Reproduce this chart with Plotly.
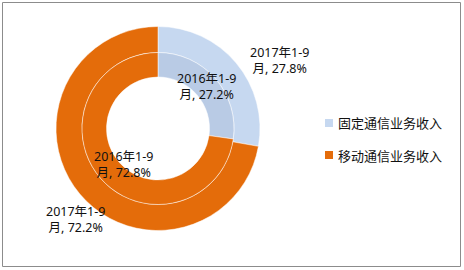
import plotly.graph_objects as go

categories = ["固定通信业务收入", "移动通信业务收入"]
periods = ["2017年1-9月", "2016年1-9月"]
values_2017 = [27.8, 72.2]
values_2016 = [27.2, 72.8]
outer_colors = ["#C6D8F0", "#E46C0A"]
inner_colors = ["#B9CBE5", "#E46C0A"]

W, H = 464, 270
cx, cy = 158, 128.5
r_out, r_mid, r_in = 102, 76, 51.5

def dom(r):
    return dict(x=[(cx - r) / W, (cx + r) / W], y=[1 - (cy + r) / H, 1 - (cy - r) / H])

fig = go.Figure()
fig.add_trace(go.Pie(
    labels=categories, values=values_2017, hole=r_mid / r_out, domain=dom(r_out),
    sort=False, direction="clockwise", rotation=0, textinfo="none",
    marker=dict(colors=outer_colors, line=dict(color="white", width=0.5)),
    showlegend=False, hoverinfo="label+percent"))
fig.add_trace(go.Pie(
    labels=categories, values=values_2016, hole=r_in / r_mid, domain=dom(r_mid),
    sort=False, direction="clockwise", rotation=0, textinfo="none",
    marker=dict(colors=inner_colors, line=dict(color="white", width=0.5)),
    showlegend=False, hoverinfo="label+percent"))

font = dict(family="Noto Sans, Noto Sans CJK SC", size=12.5, color="#111111")

def label(period, v):
    y, m = period[:-1], period[-1]
    return f"{y}<br>{m}, {v}%"

# label anchor positions (pixels)
pos = {
    (0, 0): (279, 61),
    (0, 1): (75, 219),
    (1, 0): (206, 87),
    (1, 1): (123, 164),
}
for pi, (period, vals) in enumerate(zip(periods, [values_2017, values_2016])):
    for ci, v in enumerate(vals):
        px, py = pos[(pi, ci)]
        fig.add_annotation(x=px / W, y=1 - py / H, xref="paper", yref="paper",
                           text=label(period, v), showarrow=False, font=font,
                           xanchor="center", yanchor="middle", align="center")

# legend (key squares + text)
leg_x, leg_y0, leg_dy = 325, 123, 32
for i, (name, col) in enumerate(zip(categories, outer_colors)):
    yy = leg_y0 + i * leg_dy
    fig.add_shape(type="rect", xref="paper", yref="paper",
                  x0=leg_x / W, x1=(leg_x + 8) / W,
                  y0=1 - (yy + 4) / H, y1=1 - (yy - 4) / H,
                  fillcolor=col, line=dict(width=0))
    fig.add_annotation(x=(leg_x + 11) / W, y=1 - yy / H, xref="paper", yref="paper",
                       text=name, showarrow=False, xanchor="left", yanchor="middle",
                       font=dict(family="Noto Sans CJK SC", size=13, color="#111111"))

fig.add_shape(type="rect", xref="paper", yref="paper",
              x0=2.5 / W, x1=460.5 / W, y0=1 - 266.5 / H, y1=1 - 2.5 / H,
              line=dict(color="#8C8C8C", width=1))

fig.update_layout(
    width=W, height=H, margin=dict(l=0, r=0, t=0, b=0),
    paper_bgcolor="white", plot_bgcolor="white", showlegend=False,
)
fig.write_html("out.html")
